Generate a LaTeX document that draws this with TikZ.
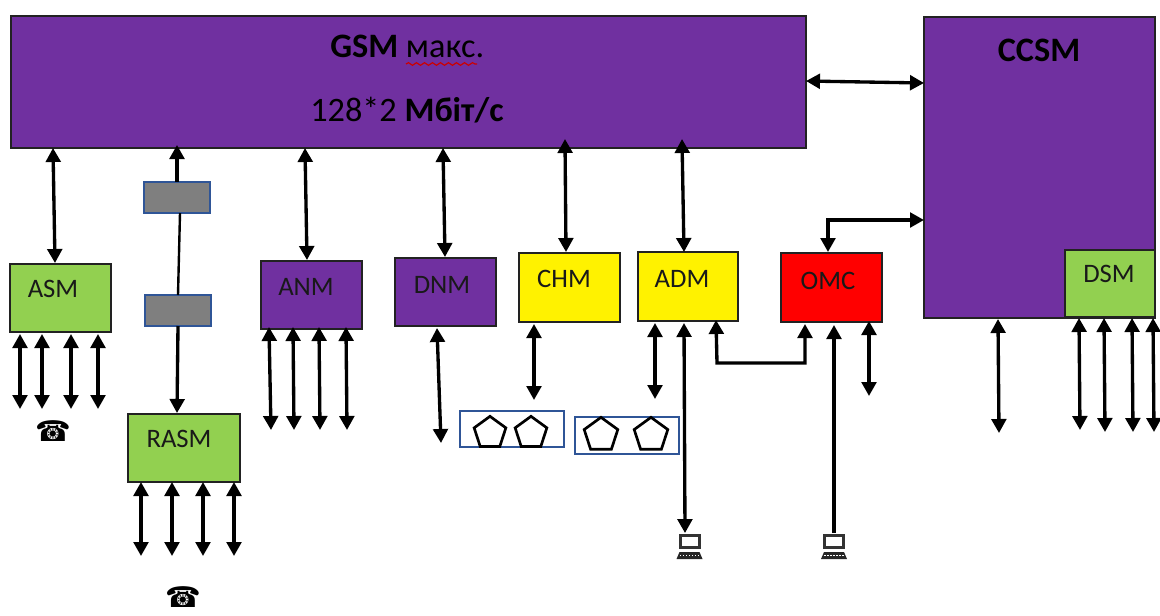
\documentclass[tikz,border=0pt]{standalone}
\usepackage{fontspec}
\setmainfont{Carlito}
\newfontfamily\symfont{DejaVu Sans}
\usetikzlibrary{arrows.meta,calc,fit,shapes.geometric,decorations.pathmorphing}
\definecolor{purp}{HTML}{7030A0}
\definecolor{grn}{HTML}{92D050}
\definecolor{blu}{HTML}{2F5597}
\definecolor{gry}{HTML}{7F7F7F}
\definecolor{edge}{HTML}{222222}
\tikzset{
  x=0.75pt,y=-0.75pt,
  blockbox/.style={fit={#1},inner sep=0pt,outer sep=0pt,draw=edge,line width=1.2pt},
  dbl/.style={line width=2.5pt,{Triangle[width=11pt,length=10.5pt]}-{Triangle[width=11pt,length=10.5pt]}},
  sgl/.style={line width=2.5pt,-{Triangle[width=11pt,length=10.5pt]}},
  plainline/.style={line width=1.8pt},
  lbl/.style={font=\fontsize{20}{24}\selectfont,text=black!90,inner sep=0pt},
  big/.style={font=\fontsize{25.7}{30}\selectfont,text=black,inner sep=0pt,anchor=base west},
  holder/.style={fit={#1},inner sep=0pt,outer sep=0pt,draw=blu,line width=2pt},
  grey/.style={fit={#1},inner sep=0pt,outer sep=0pt,draw=blu,line width=2pt,fill=gry},
  penta/.style={regular polygon,regular polygon sides=5,draw=black,line width=2pt,minimum size=#1,inner sep=0pt},
  phone/.style={font=\symfont\fontsize{21.5}{24}\selectfont,inner sep=0pt,text=black},
  lapspot/.style={minimum width=19pt,minimum height=19pt,inner sep=0pt},
}
\newcommand{\laptop}[1]{%
  \fill[black!80] ($(#1)+(-11,-12)$) rectangle ($(#1)+(11,3)$);
  \fill[white] ($(#1)+(-8,-9)$) rectangle ($(#1)+(8,0)$);
  \fill[black!85] ($(#1)+(-10,6)$) -- ($(#1)+(10,6)$) -- ($(#1)+(13,13)$) -- ($(#1)+(-13,13)$) -- cycle;
  \foreach \xx in {-9,-6,-3,0,3,6,9}{\fill[white] ($(#1)+(\xx-.8,8.5)$) rectangle ($(#1)+(\xx+.8,10)$);}
}
\begin{document}
\begin{tikzpicture}
\useasboundingbox (0,0) rectangle (1160,615);
\fill[white] (0,0) rectangle (1160,615);

% blocks
\node[blockbox={(11,16)(806,148)},fill=purp] (gsm) {};
\node[blockbox={(924,17)(1155,318)},fill=purp] (ccsm) {};
\node[blockbox={(1065,250)(1155,317)},fill=grn] (dsm) {};
\node[blockbox={(10,264)(111,332)},fill=grn] (asm) {};
\node[blockbox={(128,414)(240,482)},fill=grn] (rasm) {};
\node[blockbox={(261,261)(362,329)},fill=purp] (anm) {};
\node[blockbox={(395,258)(496,326)},fill=purp] (dnm) {};
\node[blockbox={(519,253)(620,322)},fill=yellow] (chm) {};
\node[blockbox={(638,252)(738,321)},fill=yellow] (adm) {};
\node[blockbox={(781,253)(882,322)},fill=red] (omc) {};
\node[grey={(144,182)(210,213)}] (g1) {};
\node[grey={(145,295)(211,326)}] (g2) {};
\node[holder={(460,411)(564,447)}] (h1) {};
\node[holder={(575,417)(679,454)}] (h2) {};

% labels
\node[big] (t1) at (330,57) {\textbf{GSM} макс.};
\draw[red!80!black,line width=.9pt,decorate,decoration={snake,amplitude=1pt,segment length=6pt}] (406,64) -- (477,64);
\node[big] (t2) at (310,121) {128*2 \textbf{Мбіт/с}};
\node[big,anchor=center] (t3) at (1039,50) {\textbf{CCSM}};
\node[lbl] (l1) at (53,289) {ASM};
\node[lbl] (l2) at (179,439) {RASM};
\node[lbl] (l3) at (306,287) {ANM};
\node[lbl] (l4) at (442,285) {DNM};
\node[lbl] (l5) at (564,279) {CHM};
\node[lbl] (l6) at (682,279) {ADM};
\node[lbl] (l7) at (828,281) {OMC};
\node[lbl] (l8) at (1109,274) {DSM};

% pentagons
\node[penta=25pt] (p1) at (490,433) {};
\node[penta=25pt] (p2) at (531,433) {};
\node[penta=26.5pt] (p3) at (601,435) {};
\node[penta=26.5pt] (p4) at (651,435) {};

% phones
\node[phone] (ph1) at (53,431) {☎};
\node[phone] (ph2) at (183,597) {☎};

% laptops
\node[lapspot] (lap1) at (689.5,546) {};
\node[lapspot] (lap2) at (834,546) {};
\laptop{lap1}
\laptop{lap2}

% free ends
\foreach \n/\x in {a/20,b/42,c/71,d/98}{\coordinate (asm\n) at (\x,409);}
\foreach \n/\x in {a/141,b/172,c/203,d/234}{\coordinate (rasm\n) at (\x,556);}
\foreach \n/\x in {a/271,b/294,c/320,d/347}{\coordinate (anm\n) at (\x,430);}
\foreach \n/\x/\y in {a/1080/430,b/1105/432,c/1133/432,d/1154/432}{\coordinate (dsm\n) at (\x,\y);}
\coordinate (dnmend) at (441,443);
\coordinate (omcend) at (869,396);
\coordinate (ccsmend) at (999,433);

% connectors to GSM
\draw[dbl] ($(gsm.south west)+(42,0)$) -- ($(asm.north west)+(45,-1)$);
\draw[dbl] ($(gsm.south west)+(294,0)$) -- ($(anm.north west)+(46,-1)$);
\draw[dbl] ($(gsm.south west)+(432,0)$) -- ($(dnm.north west)+(50,-1)$);
\draw[dbl] ($(gsm.south west)+(554,-9)$) -- ($(chm.north west)+(47,-1)$);
\draw[dbl] ($(gsm.south west)+(671,-9)$) -- ($(adm.north west)+(46,0)$);
\draw[dbl] (gsm.east |- 0,81) -- (ccsm.west |- 0,83);
% relay through the grey blocks
\draw[sgl] (g1.north -| 177,0) -- (177,145);
\draw[plainline] ($(g1.south west)+(36,0)$) -- ($(g2.north west)+(33,0)$);
\draw[sgl] ($(g2.south west)+(33,0)$) -- ($(rasm.north west)+(49,-1)$);
% OMC - CCSM
\draw[dbl] ($(omc.north west)+(47,-1)$) -- ++(0,-32) -- (ccsm.west |- 0,220);
% bottom bundles
\foreach \n/\x in {a/20,b/42,c/71,d/98}{\draw[dbl] ($(asm.south west)+(\x-10,2)$) -- (asm\n);}
\foreach \n/\x in {a/141,b/172,c/203,d/234}{\draw[dbl] ($(rasm.south west)+(\x-128,0)$) -- (rasm\n);}
\foreach \n/\x in {a/269,b/293,c/319,d/346}{\draw[dbl] ($(anm.south west)+(\x-261,-2)$) -- (anm\n);}
\draw[dbl] ($(dnm.south west)+(42,2)$) -- (dnmend);
\draw[dbl] ($(chm.south west)+(15,2)$) -- ($(h1.north west)+(74,-11)$);
\draw[dbl] ($(adm.south west)+(17,2)$) -- ($(h2.north west)+(80,-18)$);
\draw[dbl] ($(adm.south west)+(46,2)$) -- (lap1.north -| 685,0);
\draw[dbl] ($(adm.south west)+(78,-1)$) -- ++(1,43) -- ($(omc.south west)+(24,41)$) -- ($(omc.south west)+(24,2)$);
\draw[sgl] (lap2.north) -- ($(omc.south west)+(53,3)$);
\draw[dbl] ($(omc.south west)+(88,-1)$) -- (omcend);
\draw[dbl] ($(ccsm.south west)+(74,1)$) -- (ccsmend);
\foreach \n/\x in {a/1079,b/1104,c/1132,d/1153}{\draw[dbl] ($(dsm.south west)+(\x-1065,1)$) -- (dsm\n);}
\end{tikzpicture}
\end{document}
